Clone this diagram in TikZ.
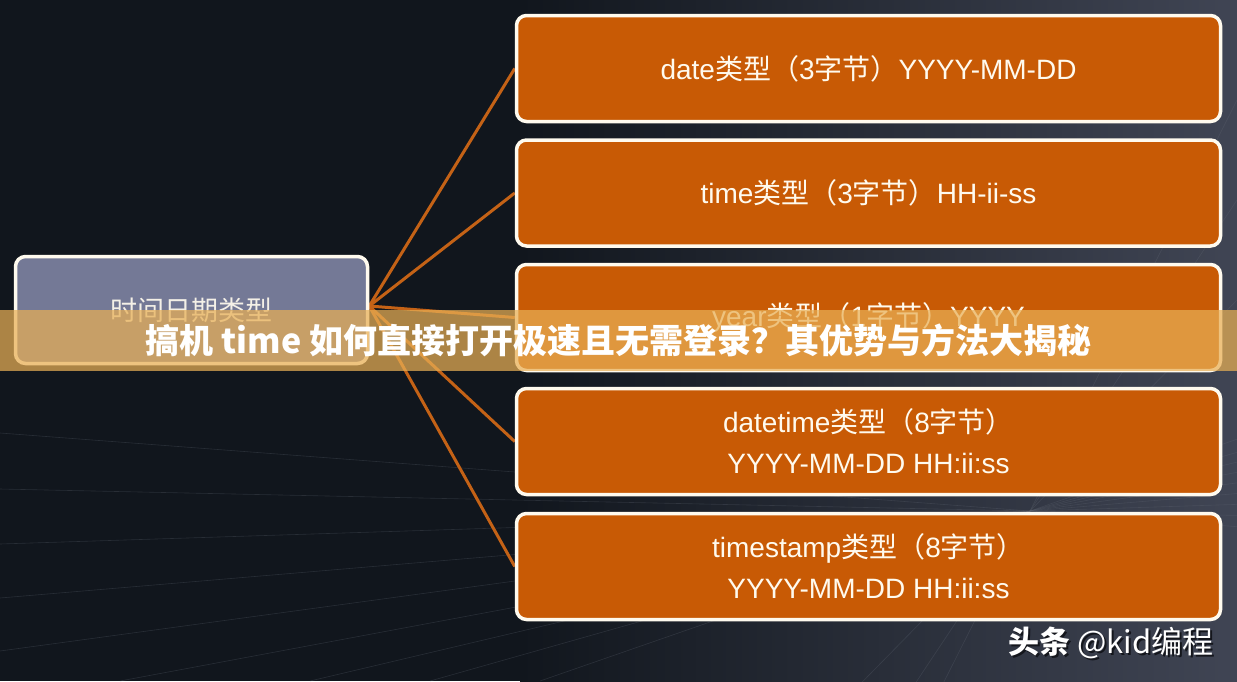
\documentclass[tikz,border=0pt]{standalone}
\usepackage{fontspec}
\setmainfont{Liberation Sans}
\newfontfamily\cjk{Noto Sans CJK SC}
\usetikzlibrary{calc}
\definecolor{bgdark}{RGB}{17,22,29}
\definecolor{bgright}{RGB}{64,69,84}
\definecolor{boxor}{RGB}{200,90,5}
\definecolor{linkor}{RGB}{196,98,22}
\definecolor{leftfill}{RGB}{116,121,150}
\definecolor{cream}{RGB}{255,250,238}
\definecolor{bannercol}{RGB}{232,175,85}
\definecolor{faint}{RGB}{100,106,118}
\definecolor{shadowcol}{RGB}{20,22,28}
\pgfdeclarelayer{bglayer}
\pgfdeclarelayer{linklayer}
\pgfsetlayers{bglayer,linklayer,main}
\begin{document}
\begin{tikzpicture}[x=1pt,y=-1pt,
  typebox/.style={draw=cream, line width=3.5pt, fill=boxor, rounded corners=10pt,
    minimum width=704pt, minimum height=106pt, text=cream, align=center,
    font=\fontsize{28}{41}\selectfont, inner sep=0pt},
  rootbox/.style={draw=cream, line width=3.5pt, fill=leftfill, rounded corners=10pt,
    minimum width=352pt, minimum height=107pt, text=cream!92!leftfill,
    font=\cjk\fontsize{27}{32}\selectfont, inner sep=0pt},
  link/.style={draw=linkor, line width=3pt},
  bgline/.style={draw=faint, line width=0.6pt, opacity=0.28},
  banner/.style={fill=bannercol, fill opacity=0.72, text opacity=1, text=white,
    minimum width=1237pt, minimum height=61pt, inner sep=0pt,
    font=\cjk\bfseries\fontsize{34}{40}\selectfont},
  wmark/.style={text=white, font=\cjk\fontsize{31}{34}\selectfont, inner sep=0pt},
  wmarkshadow/.style={text=shadowcol, font=\cjk\fontsize{31}{34}\selectfont, inner sep=0pt}
]
\useasboundingbox (0,0) rectangle (1237,681);
% background
\begin{pgfonlayer}{bglayer}
\fill[bgdark] (0,0) rectangle (1237,681);
\shade[left color=bgdark, right color=bgright] (520,0) rectangle (1237,681);
\begin{scope}
\clip (0,0) rectangle (1237,681);
\coordinate (F) at (1030,511);
\foreach \px/\py in {0/433, 0/489, 0/544, 0/598, 0/651, 120/681, 310/681, 430/681, 540/681, 1237/300, 1237/200, 1237/100} {
  \draw[bgline] (\px,\py) -- ($(\px,\py)!3!(F)$);
}
\end{scope}
\end{pgfonlayer}
% nodes
\node[rootbox] (root) at (191.5,310) {时间日期类型};
\node[typebox] (t1) at (868.5,68.5) {date{\cjk 类型（}3{\cjk 字节）}YYYY-MM-DD};
\node[typebox] (t2) at (868.5,193) {time{\cjk 类型（}3{\cjk 字节）}HH-ii-ss};
\node[typebox] (t3) at (868.5,317.5) {year{\cjk 类型（}1{\cjk 字节）}YYYY};
\node[typebox] (t4) at (868.5,441.5) {datetime{\cjk 类型（}8{\cjk 字节）}\\YYYY-MM-DD HH:ii:ss};
\node[typebox] (t5) at (868.5,566.5) {timestamp{\cjk 类型（}8{\cjk 字节）}\\YYYY-MM-DD HH:ii:ss};
% connectors
\begin{pgfonlayer}{linklayer}
\foreach \t in {t1,t2,t3,t4,t5} {
  \draw[link] ([yshift=4pt]root.east) -- (\t.west);
}
\end{pgfonlayer}
% banner
\node[banner] (bn) at (618.5,340.5) {\raisebox{-2pt}{搞机 time 如何直接打开极速且无需登录？其优势与方法大揭秘}};
% watermark
\node[wmarkshadow] (wms) at (1113,645) {\textbf{头条} @kid编程};
\node[wmark] (wm) at (1111,643) {\textbf{头条} @kid编程};
\end{tikzpicture}
\end{document}
